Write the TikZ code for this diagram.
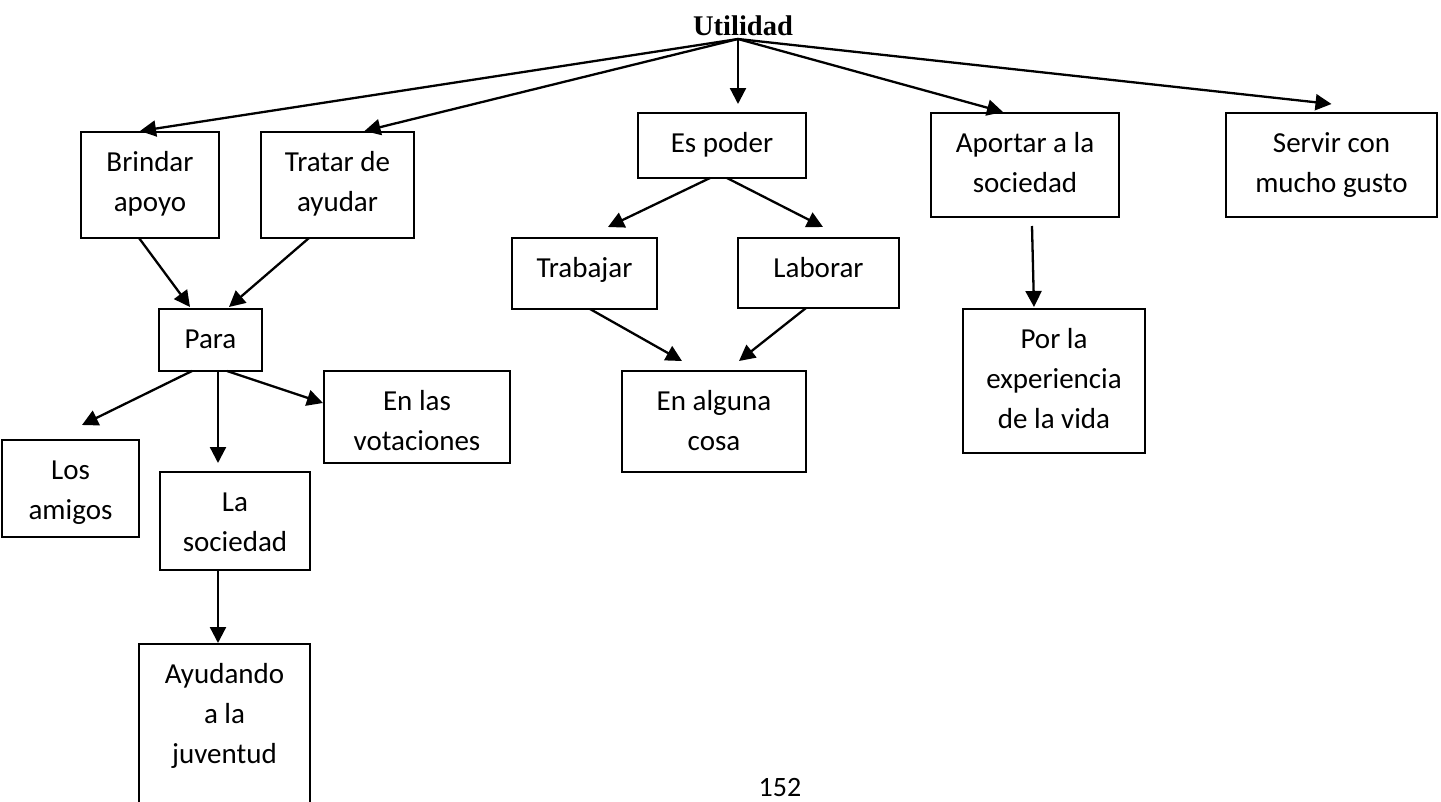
\documentclass[tikz,border=0pt]{standalone}
\usepackage{fontspec}
\setmainfont{Carlito}
\newfontfamily\utilfont{Liberation Serif}
\usetikzlibrary{arrows.meta}
\newcommand{\bxt}[3]{\parbox[c][#2pt][t]{#1pt}{\centering\rule{0pt}{39pt}#3\par}}
\begin{document}
\begin{tikzpicture}[x=1pt,y=-1pt,
  box/.style={draw, line width=2pt, inner sep=0pt, outer sep=0pt, font=\fontsize{29}{40}\selectfont},
  arr/.style={-{Triangle[length=16pt,width=16pt]}, line width=2.3pt},
  lbl/.style={inner sep=0pt, anchor=base}]
\useasboundingbox (0,0) rectangle (1441,801);
\clip (0,0) rectangle (1441,801);
\node[lbl, font=\utilfont\bfseries\fontsize{28.5}{30}\selectfont] (util) at (743,35) {Utilidad};
\coordinate (o) at (738,39);
\node[lbl, font=\fontsize{28}{30}\selectfont] (pagenum) at (780,796) {152};

\node[box] (brindar) at (150,185) {\bxt{138}{106}{Brindar\\apoyo}};
\node[box] (tratar) at (337.5,185) {\bxt{153}{106}{Tratar de\\ayudar}};
\node[box] (espoder) at (722,145.5) {\bxt{168}{65}{Es poder}};
\node[box] (aportar) at (1025,165) {\bxt{188}{104}{Aportar a la\\sociedad}};
\node[box] (servir) at (1331.5,165) {\bxt{211}{104}{Servir con\\mucho gusto}};
\node[box] (trabajar) at (584.5,273.5) {\bxt{145}{71}{Trabajar}};
\node[box] (laborar) at (818.5,273) {\bxt{161}{70}{Laborar}};
\node[box] (para) at (210.5,340) {\bxt{103}{62}{Para}};
\node[box] (votaciones) at (417,417) {\bxt{186}{92}{En las\\votaciones}};
\node[box] (amigos) at (70.5,488.5) {\bxt{137}{97}{Los\\amigos}};
\node[box] (lasociedad) at (235,521) {\bxt{150}{98}{La\\sociedad}};
\node[box] (enalguna) at (714,421.5) {\bxt{184}{101}{En alguna\\cosa}};
\node[box] (porla) at (1054,381) {\bxt{182}{144}{Por la\\experiencia\\de la vida}};
\node[box] (ayudando) at (224.5,744) {\bxt{171}{200}{Ayudando\\a la\\juventud}};

\draw[arr] (o) -- ([xshift=-10pt,yshift=1pt]brindar.north);
\draw[arr] (o) -- ([xshift=27pt,yshift=1pt]tratar.north);
\draw[arr] (o) -- ([xshift=16pt,yshift=9pt]espoder.north);
\draw[arr] (o) -- ([xshift=-22pt,yshift=1pt]aportar.north);
\draw[arr] (o) -- ([yshift=9pt]servir.north);

\draw[arr] ([xshift=-11pt]brindar.south) -- ([xshift=-20.5pt,yshift=2pt]para.north);
\draw[arr] ([xshift=-28.5pt]tratar.south) -- ([xshift=18.5pt,yshift=2pt]para.north);
\draw[arr] ([xshift=-18.5pt]para.south) -- ([xshift=11.5pt,yshift=15pt]amigos.north);
\draw[arr] ([xshift=7.5pt]para.south) -- ([xshift=-17pt,yshift=9pt]lasociedad.north);
\draw[arr] ([xshift=16.5pt]para.south) -- ([xshift=-1pt,yshift=14pt]votaciones.west);
\draw[arr] ([xshift=-17pt]lasociedad.south) -- ([xshift=-6.5pt,yshift=1pt]ayudando.north);

\draw[arr] ([xshift=-12pt]espoder.south) -- ([xshift=23.5pt,yshift=11pt]trabajar.north);
\draw[arr] ([xshift=5pt]espoder.south) -- ([xshift=4.5pt,yshift=11pt]laborar.north);
\draw[arr] ([xshift=5.5pt]trabajar.south) -- ([xshift=-32pt,yshift=10pt]enalguna.north);
\draw[arr] ([xshift=-12.5pt]laborar.south) -- ([xshift=25pt,yshift=10pt]enalguna.north);
\draw[arr] ([xshift=7pt,yshift=-9pt]aportar.south) -- ([xshift=-20pt,yshift=2pt]porla.north);
\end{tikzpicture}
\end{document}
